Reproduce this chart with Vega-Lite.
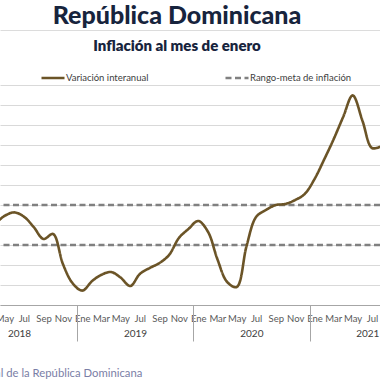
{
  "$schema": "https://vega.github.io/schema/vega-lite/v6.json",
  "width": 380,
  "height": 220,
  "autosize": {"type": "none"},
  "padding": {"left": 0, "right": 0, "top": 85, "bottom": 75},
  "background": "white",
  "config": {
    "font": "Lato",
    "view": {"stroke": null},
    "axis": {"labelFont": "Lato", "titleFont": "Lato"}
  },
  "title": {
    "text": "República Dominicana",
    "subtitle": "Inflación al mes de enero",
    "anchor": "middle",
    "font": "Lato",
    "fontSize": 25,
    "fontWeight": 900,
    "color": "#17243d",
    "subtitleFont": "Lato",
    "subtitleFontSize": 15,
    "subtitleFontWeight": 800,
    "subtitleColor": "#17243d",
    "subtitlePadding": 10,
    "offset": 0,
    "dx": -13,
    "dy": 24
  },
  "datasets": {
    "inflacion": [
      {"fecha": "2018-04-01", "valor": 4.05, "serie": "Variación interanual"},
      {"fecha": "2018-05-01", "valor": 4.45, "serie": "Variación interanual"},
      {"fecha": "2018-06-01", "valor": 4.63, "serie": "Variación interanual"},
      {"fecha": "2018-07-01", "valor": 4.42, "serie": "Variación interanual"},
      {"fecha": "2018-08-01", "valor": 3.9, "serie": "Variación interanual"},
      {"fecha": "2018-09-01", "valor": 3.3, "serie": "Variación interanual"},
      {"fecha": "2018-10-01", "valor": 3.55, "serie": "Variación interanual"},
      {"fecha": "2018-11-01", "valor": 2.05, "serie": "Variación interanual"},
      {"fecha": "2018-12-01", "valor": 1.1, "serie": "Variación interanual"},
      {"fecha": "2019-01-01", "valor": 0.72, "serie": "Variación interanual"},
      {"fecha": "2019-02-01", "valor": 1.2, "serie": "Variación interanual"},
      {"fecha": "2019-03-01", "valor": 1.5, "serie": "Variación interanual"},
      {"fecha": "2019-04-01", "valor": 1.65, "serie": "Variación interanual"},
      {"fecha": "2019-05-01", "valor": 1.38, "serie": "Variación interanual"},
      {"fecha": "2019-06-01", "valor": 0.95, "serie": "Variación interanual"},
      {"fecha": "2019-07-01", "valor": 1.55, "serie": "Variación interanual"},
      {"fecha": "2019-08-01", "valor": 1.85, "serie": "Variación interanual"},
      {"fecha": "2019-09-01", "valor": 2.1, "serie": "Variación interanual"},
      {"fecha": "2019-10-01", "valor": 2.5, "serie": "Variación interanual"},
      {"fecha": "2019-11-01", "valor": 3.35, "serie": "Variación interanual"},
      {"fecha": "2019-12-01", "valor": 3.8, "serie": "Variación interanual"},
      {"fecha": "2020-01-01", "valor": 4.2, "serie": "Variación interanual"},
      {"fecha": "2020-02-01", "valor": 3.65, "serie": "Variación interanual"},
      {"fecha": "2020-03-01", "valor": 2.3, "serie": "Variación interanual"},
      {"fecha": "2020-04-01", "valor": 1.15, "serie": "Variación interanual"},
      {"fecha": "2020-05-01", "valor": 0.9, "serie": "Variación interanual"},
      {"fecha": "2020-06-01", "valor": 2.95, "serie": "Variación interanual"},
      {"fecha": "2020-07-01", "valor": 4.4, "serie": "Variación interanual"},
      {"fecha": "2020-08-01", "valor": 4.75, "serie": "Variación interanual"},
      {"fecha": "2020-09-01", "valor": 5.0, "serie": "Variación interanual"},
      {"fecha": "2020-10-01", "valor": 5.05, "serie": "Variación interanual"},
      {"fecha": "2020-11-01", "valor": 5.25, "serie": "Variación interanual"},
      {"fecha": "2020-12-01", "valor": 5.55, "serie": "Variación interanual"},
      {"fecha": "2021-01-01", "valor": 6.3, "serie": "Variación interanual"},
      {"fecha": "2021-02-01", "valor": 7.3, "serie": "Variación interanual"},
      {"fecha": "2021-03-01", "valor": 8.25, "serie": "Variación interanual"},
      {"fecha": "2021-04-01", "valor": 9.4, "serie": "Variación interanual"},
      {"fecha": "2021-05-01", "valor": 10.48, "serie": "Variación interanual"},
      {"fecha": "2021-06-01", "valor": 9.2, "serie": "Variación interanual"},
      {"fecha": "2021-07-01", "valor": 7.85, "serie": "Variación interanual"},
      {"fecha": "2021-08-01", "valor": 7.95, "serie": "Variación interanual"}
    ],
    "meta": [
      {"valor": 3, "serie": "Rango-meta de inflación"},
      {"valor": 5, "serie": "Rango-meta de inflación"}
    ]
  },
  "resolve": {"axis": {"x": "independent"}},
  "layer": [
    {
      "data": {"name": "meta"},
      "mark": {"type": "rule", "strokeWidth": 2.5},
      "encoding": {
        "y": {
          "field": "valor", "type": "quantitative", "scale": {"domain": [0, 11]},
          "axis": {"title": null, "labels": false, "ticks": false, "domain": false, "grid": true, "gridColor": "#d9d9d9", "gridWidth": 1, "tickCount": 12, "values": [0,1,2,3,4,5,6,7,8,9,10,11]}
        },
        "color": {"field": "serie", "type": "nominal"},
        "strokeDash": {"field": "serie", "type": "nominal"}
      }
    },
    {
      "data": {"name": "inflacion"},
      "mark": {"type": "line", "interpolate": "catmull-rom", "strokeWidth": 2.6, "clip": true},
      "encoding": {
        "x": {
          "field": "fecha", "type": "temporal",
          "scale": {"type": "utc", "domain": [{"year": 2018, "month": 4, "date": 17, "utc": true}, {"year": 2021, "month": 7, "date": 26, "utc": true}]},
          "axis": {
            "orient": "bottom", "title": null, "grid": false, "ticks": false,
            "tickCount": {"interval": "month", "step": 2},
            "labelExpr": "['Ene','Feb','Mar','Abr','May','Jun','Jul','Ago','Sep','Oct','Nov','Dic'][utcmonth(datum.value)]",
            "labelFontSize": 9.5, "labelColor": "#595959", "labelPadding": 8,
            "labelOverlap": false, "labelFlush": false, "labelBound": false,
            "domainColor": "#a6a6a6", "domainWidth": 1
          }
        },
        "y": {
          "field": "valor", "type": "quantitative", "scale": {"domain": [0, 11]},
          "axis": {"title": null, "labels": false, "ticks": false, "domain": false, "grid": true, "gridColor": "#d9d9d9", "gridWidth": 1, "tickCount": 12, "values": [0,1,2,3,4,5,6,7,8,9,10,11]}
        },
        "color": {
          "field": "serie", "type": "nominal",
          "scale": {"domain": ["Variación interanual", "Rango-meta de inflación"], "range": ["#6b5427", "#808080"]},
          "legend": {
            "orient": "none", "legendX": 40, "legendY": -20, "direction": "horizontal", "title": null,
            "symbolType": "stroke", "symbolSize": 529, "symbolStrokeWidth": 2.5,
            "labelFont": "Lato", "labelFontSize": 9.5, "labelColor": "#404040", "labelOffset": 0,
            "columnPadding": 71, "labelLimit": 200
          }
        },
        "strokeDash": {
          "field": "serie", "type": "nominal",
          "scale": {"domain": ["Variación interanual", "Rango-meta de inflación"], "range": [[1, 0], [6, 3.5]]},
          "legend": {
            "orient": "none", "legendX": 40, "legendY": -20, "direction": "horizontal", "title": null,
            "symbolType": "stroke", "symbolSize": 529, "symbolStrokeWidth": 2.5,
            "labelFont": "Lato", "labelFontSize": 9.5, "labelColor": "#404040", "labelOffset": 0,
            "columnPadding": 71, "labelLimit": 200
          }
        }
      }
    },
    {
      "data": {"name": "inflacion"},
      "mark": {"type": "point", "opacity": 0, "clip": true},
      "encoding": {
        "x": {
          "field": "fecha", "type": "temporal",
          "axis": {
            "orient": "bottom", "title": null, "grid": false, "labels": false, "domain": false,
            "ticks": true, "tickSize": 36, "tickColor": "#a6a6a6", "tickWidth": 1,
            "values": [
              {"year": 2018, "month": 12, "date": 16, "hours": 12, "utc": true},
              {"year": 2019, "month": 12, "date": 16, "hours": 12, "utc": true},
              {"year": 2020, "month": 12, "date": 16, "hours": 12, "utc": true}
            ]
          }
        },
        "y": {"field": "valor", "type": "quantitative"}
      }
    },
    {
      "data": {"name": "inflacion"},
      "mark": {"type": "point", "opacity": 0, "clip": true},
      "encoding": {
        "x": {
          "field": "fecha", "type": "temporal",
          "axis": {
            "orient": "bottom", "grid": false, "ticks": false, "domain": false,
            "values": [
              {"year": 2018, "month": 6, "date": 16, "utc": true},
              {"year": 2019, "month": 6, "date": 16, "utc": true},
              {"year": 2020, "month": 6, "date": 16, "utc": true},
              {"year": 2021, "month": 6, "date": 16, "utc": true}
            ],
            "labelExpr": "utcyear(datum.value)",
            "labelFontSize": 10, "labelColor": "#404040", "labelPadding": 23,
            "labelOverlap": false, "labelFlush": false, "labelBound": false,
            "title": "Fuente: Banco Central de la República Dominicana",
            "titleFont": "Lato", "titleFontSize": 11.3, "titleFontWeight": "normal", "titleColor": "#7a7ea6",
            "titleAnchor": "start", "titleAlign": "left", "titleX": -107, "titlePadding": 29
          }
        },
        "y": {"field": "valor", "type": "quantitative"}
      }
    },
    {
      "data": {"name": "inflacion"},
      "mark": {"type": "point", "opacity": 0, "clip": true},
      "encoding": {
        "x": {
          "field": "fecha", "type": "temporal",
          "axis": {
            "orient": "top", "offset": 55, "title": null, "grid": false, "labels": false, "ticks": false,
            "domain": true, "domainColor": "#dcdcdc", "domainWidth": 1
          }
        },
        "y": {"field": "valor", "type": "quantitative"}
      }
    }
  ]
}
